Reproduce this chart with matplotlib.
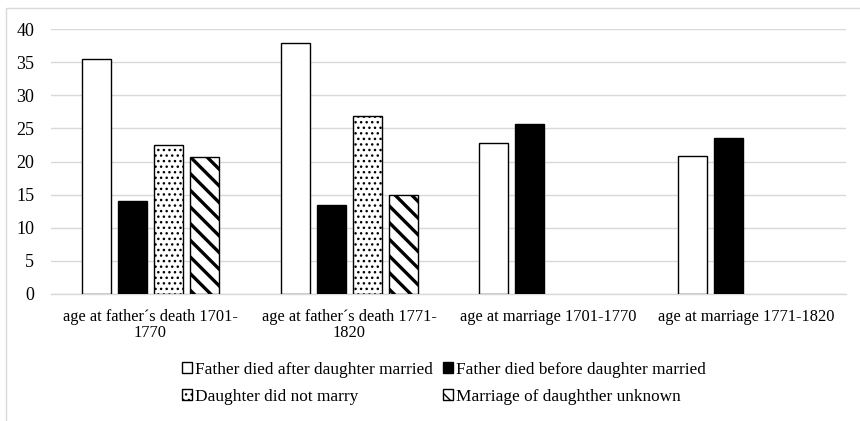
import matplotlib
matplotlib.use("Agg")
import matplotlib.pyplot as plt
from matplotlib.patches import Rectangle, Patch
import numpy as np

# ------------------------------------------------------------------ data
categories = ["age at father\u00b4s death 1701-\n1770",
              "age at father\u00b4s death 1771-\n1820",
              "age at marriage 1701-1770",
              "age at marriage 1771-1820"]
series = ["Father died after daughter married",
          "Father died before daughter married",
          "Daughter did not marry",
          "Marriage of daughther unknown"]
after_married = [35.5, 37.9, 22.8, 20.9]
before_married = [14.0, 13.5, 25.6, 23.5]
did_not_marry = [22.5, 26.8, np.nan, np.nan]
marriage_unknown = [20.7, 15.0, np.nan, np.nan]
yticks = [0, 5, 10, 15, 20, 25, 30, 35, 40]

plt.rcParams["font.family"] = ["Liberation Serif", "DejaVu Serif"]
plt.rcParams["font.size"] = 12

W, H = 860, 421
fig = plt.figure(figsize=(W / 100, H / 100), dpi=100)
ax = fig.add_axes([51 / W, 1 - 294 / H, (846 - 51) / W, (294 - 29) / H])

x = np.arange(len(categories))
slot, w = 0.181, 0.146
styles = [dict(color="white", hatch=None, hlw=1.0),
          dict(color="black", hatch=None, hlw=1.0),
          dict(color="white", hatch="...", hlw=1.0),
          dict(color="white", hatch="\\\\", hlw=2.4)]
for i, (vals, st) in enumerate(zip([after_married, before_married, did_not_marry, marriage_unknown], styles)):
    with plt.rc_context({"hatch.linewidth": st["hlw"], "hatch.color": "black"}):
        bars = ax.bar(x + (i - 1.5) * slot, vals, w, color=st["color"], edgecolor="black",
                      linewidth=1.0, hatch=st["hatch"], label=series[i], zorder=3)
    for b in bars:
        if hasattr(b, "set_hatch_linewidth"):
            b.set_hatch_linewidth(st["hlw"])

ax.set_xlim(-0.5, 3.5)
ax.set_ylim(0, 40)
ax.set_yticks(yticks)
ax.set_xticks(x)
ax.set_xticklabels(categories, linespacing=1.0, fontsize=11.8)
ax.tick_params(length=0)
ax.tick_params(axis="y", pad=12, labelsize=13)
ax.tick_params(axis="x", pad=11)
ax.yaxis.grid(True, color="#d9d9d9", lw=1.0, zorder=0)
ax.set_axisbelow(True)
for s in ["top", "right", "left"]:
    ax.spines[s].set_visible(False)
ax.spines["bottom"].set_color("#d9d9d9")
ax.spines["bottom"].set_linewidth(1.0)

# legend handles (small squares, thin hatch)
handles = []
with plt.rc_context({"hatch.linewidth": 1.2, "hatch.color": "black"}):
    for st in styles:
        p = Patch(facecolor=st["color"], edgecolor="black", linewidth=1.0, hatch=st["hatch"])
        if hasattr(p, "set_hatch_linewidth"):
            p.set_hatch_linewidth(1.2)
        handles.append(p)

order = [0, 2, 1, 3]
fig.legend([handles[k] for k in order], [series[k] for k in order], ncol=2,
           loc="upper left", bbox_to_anchor=(182 / W, 1 - 362 / H), frameon=False,
           borderpad=0, borderaxespad=0, handlelength=0.6, handleheight=0.6,
           handletextpad=0.15, columnspacing=0.6, labelspacing=0.64, fontsize=12.4)

# outer chart frame
fig.add_artist(Rectangle((6 / W, -0.1), 1.2, 1 - 8 / H + 0.1, transform=fig.transFigure,
                         fill=False, edgecolor="#d9d9d9", linewidth=1.0))

fig.savefig("out.png", dpi=100)
